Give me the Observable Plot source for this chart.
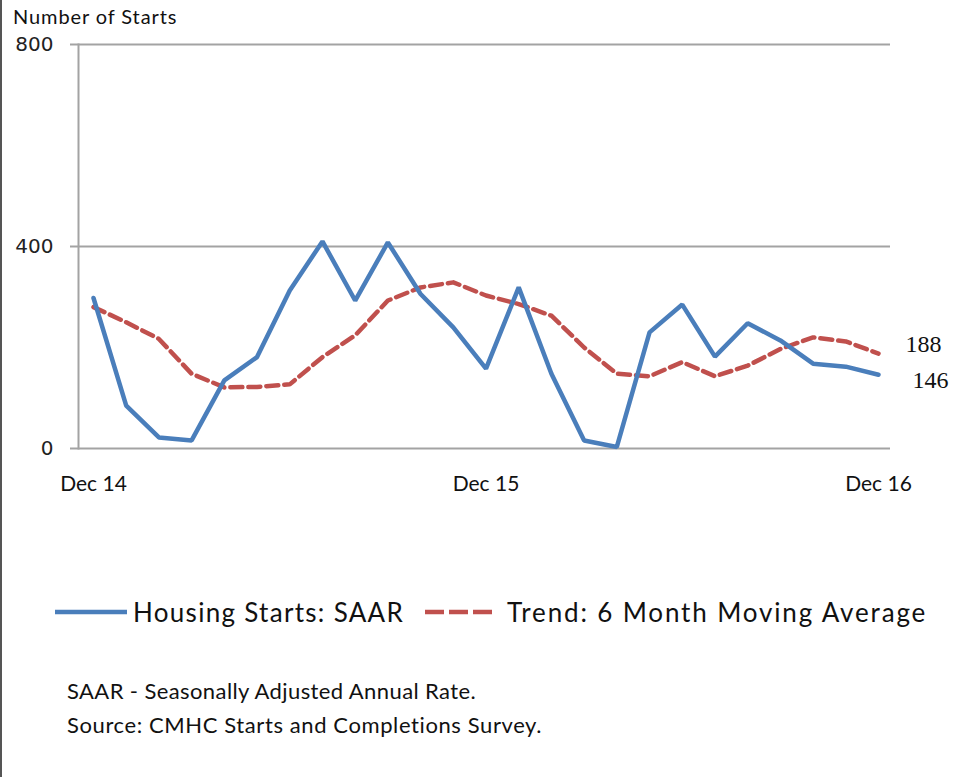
<!DOCTYPE html>
<html>
<head>
<meta charset="utf-8">
<script src="https://cdn.jsdelivr.net/npm/d3@7"></script>
<script src="https://cdn.jsdelivr.net/npm/@observablehq/plot@0.6"></script>
<style>
  body { margin: 0; background: #fff; }
  #wrap { position: relative; width: 956px; height: 777px; overflow: hidden; background: #fff; font-family: Lato, "Open Sans", sans-serif; color: #111; }
  #border { position: absolute; left: 0; top: 0; width: 2px; height: 777px; background: #555; }
  #chart { position: absolute; left: 0; top: 0; }
  #title { position: absolute; left: 13px; top: 4px; font-size: 20px; letter-spacing: 0.9px; }
  .lg { position: absolute; white-space: nowrap; }
  .lgtext { font-size: 26px; line-height: 30px; top: 597px; }
  .sw { position: absolute; top: 607px; }
  #notes { position: absolute; left: 67px; top: 674px; font-size: 22px; line-height: 34px; }
  #n1 { letter-spacing: 0.4px; }
  #n2 { letter-spacing: 0.6px; }
</style>
</head>
<body>
<div id="wrap">
  <div id="border"></div>
  <div id="chart"></div>
  <div id="title">Number of Starts</div>
  <div id="legend"></div>
  <div id="notes"><span id="n1">SAAR - Seasonally Adjusted Annual Rate.</span><br><span id="n2">Source: CMHC Starts and Completions Survey.</span></div>
</div>
<script>
// Monthly index 0 = Dec 2014 ... 24 = Dec 2016
const monthIndex = d3.range(25);
const housingStarts = [298, 85, 22, 16, 135, 181, 313, 410, 293, 408, 306, 240, 158, 319, 148, 16, 3, 230, 285, 182, 248, 214, 168, 162, 146];
const trend6m = [280, 250, 217, 148, 121, 122, 127, 181, 224, 293, 319, 329, 303, 286, 263, 200, 148, 143, 171, 143, 164, 197, 220, 212, 188];
const xTickIndex = [0, 12, 24];
const xTickLabels = ["Dec 14", "Dec 15", "Dec 16"];
const yTicks = [0, 400, 800];
const seriesNames = ["Housing Starts: SAAR", "Trend: 6 Month Moving Average"];
const endLabels = [
  {i: 24, v: 188, dx: 27, dy: -9},
  {i: 24, v: 146, dx: 34, dy: 6}
];

const BLUE = "#4a7ebb";
const RED = "#c0504d";
const GRID = "#a3a3a3";

const startsData = monthIndex.map((i) => ({i, v: housingStarts[i]}));
const trendData = monthIndex.map((i) => ({i, v: trend6m[i]}));

const chart = Plot.plot({
  width: 956,
  height: 500,
  marginLeft: 78,
  marginRight: 66,
  marginTop: 44,
  marginBottom: 52,
  style: {fontFamily: "Lato, 'Open Sans', sans-serif", color: "#111", background: "transparent"},
  x: {type: "linear", domain: [-0.4586, 24.367], axis: null},
  y: {domain: [0, 800], axis: null},
  marks: [
    Plot.ruleY(yTicks, {stroke: GRID, strokeWidth: 2}),
    Plot.frame({anchor: "left", stroke: GRID, strokeWidth: 2}),
    Plot.axisY(yTicks, {tickSize: 8, tickPadding: 17, stroke: GRID, strokeWidth: 2, fontSize: 20, fontFamily: "'DejaVu Sans', sans-serif", fill: "#222", label: null, tickFormat: (d) => String(d)}),
    Plot.axisX(xTickIndex, {tickSize: 0, tickPadding: 28, fontSize: 21, fill: "#111", label: null, style: {letterSpacing: "0.8px"}, tickFormat: (d) => xTickLabels[xTickIndex.indexOf(d)]}),
    Plot.line(trendData, {x: "i", y: "v", stroke: RED, strokeWidth: 4.5, strokeDasharray: "12,6", strokeLinejoin: "round"}),
    Plot.line(startsData, {x: "i", y: "v", stroke: BLUE, strokeWidth: 4.5, strokeLinejoin: "miter"}),
    ...endLabels.map((d) => Plot.text([d], {x: "i", y: "v", text: (e) => String(e.v), dx: d.dx, dy: d.dy, textAnchor: "start", fontSize: 24, fontFamily: "'Liberation Serif', serif", fill: "#111"}))
  ]
});
document.getElementById("chart").appendChild(chart);

// Legend
const legend = document.getElementById("legend");
function swatch(color, dashed, w, left) {
  const svg = d3.create("svg").attr("class", "sw").attr("width", w).attr("height", 10).style("left", left + "px");
  svg.append("line").attr("x1", 0).attr("x2", w).attr("y1", 5).attr("y2", 5)
    .attr("stroke", color).attr("stroke-width", 4.5)
    .attr("stroke-dasharray", dashed ? "19,5" : null);
  return svg.node();
}
const items = [
  {name: seriesNames[0], color: BLUE, dashed: false, swLeft: 55, w: 72, textLeft: 133, ls: 1.3},
  {name: seriesNames[1], color: RED, dashed: true, swLeft: 425, w: 67, textLeft: 507, ls: 1.85}
];
items.forEach((it) => {
  legend.appendChild(swatch(it.color, it.dashed, it.w, it.swLeft));
  const s = document.createElement("div");
  s.className = "lg lgtext";
  s.textContent = it.name;
  s.style.left = it.textLeft + "px";
  s.style.letterSpacing = it.ls + "px";
  legend.appendChild(s);
});
</script>
</body>
</html>
